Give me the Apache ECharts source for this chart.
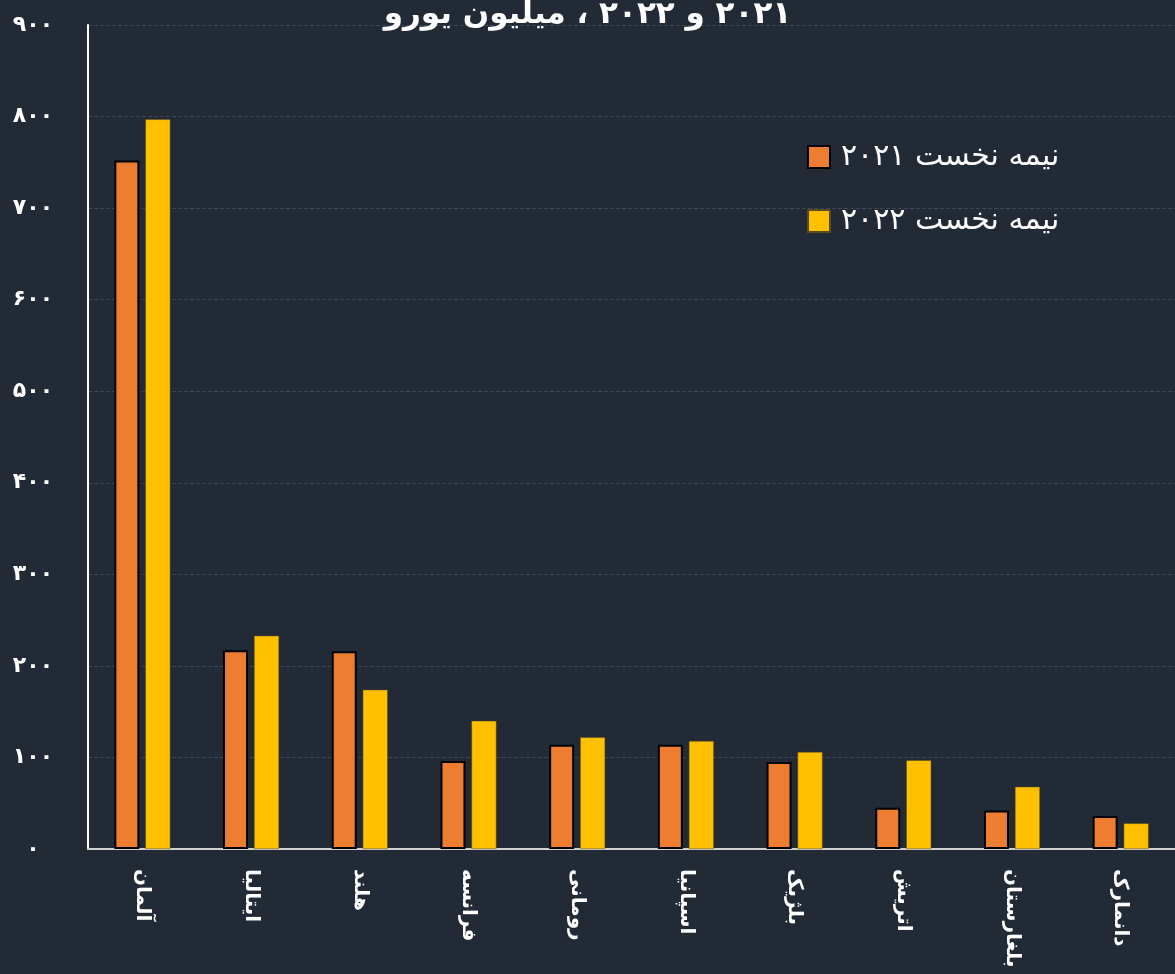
<!DOCTYPE html>
<html><head><meta charset="utf-8">
<script src="https://cdn.jsdelivr.net/npm/echarts@6/dist/echarts.min.js"></script>
<style>html,body{margin:0;padding:0;background:#222a36;}#c{width:1175px;height:974px;direction:rtl;}</style>
</head><body><div id="c"></div>
<script>
const categories = ['آلمان','ایتالیا','هلند','فرانسه','رومانی','اسپانیا','بلژیک','اتریش','بلغارستان','دانمارک'];
const series2021 = [752, 217, 216, 96, 114, 114, 95, 45, 42, 36];
const series2022 = [797, 233, 174, 140, 122, 118, 106, 97, 68, 28];
const seriesNames = ['نیمه نخست ۲۰۲۱', 'نیمه نخست ۲۰۲۲'];
const titleText = '۲۰۲۱ و ۲۰۲۲ ، میلیون یورو';
const faDigits = '۰۱۲۳۴۵۶۷۸۹';
const toFa = v => String(v).replace(/[0-9]/g, d => faDigits[+d]);
const FONT = '"DejaVu Sans", sans-serif';

const chart = echarts.init(document.getElementById('c'));
chart.setOption({
  backgroundColor: '#222a36',
  animation: false,
  textStyle: { fontFamily: FONT },
  title: {
    text: titleText, left: 'center', top: -6,
    textStyle: { color: '#ffffff', fontSize: 31, fontWeight: 'bold', fontFamily: FONT }
  },
  legend: {
    orient: 'vertical', left: 802, top: 137, itemGap: 34,
    itemWidth: 22, itemHeight: 22, icon: 'rect',
    textStyle: { color: '#ffffff', fontSize: 30, fontFamily: FONT, padding: [0, 0, 0, 6] },
    data: seriesNames
  },
  grid: { left: 88, right: 0, top: 25, bottom: 125 },
  xAxis: {
    type: 'category', data: categories,
    axisLine: { lineStyle: { color: '#d0d0d0', width: 2 } },
    axisTick: { show: false },
    axisLabel: { rotate: -90, color: '#ffffff', fontSize: 20, fontWeight: 'bold', margin: 20, fontFamily: FONT }
  },
  yAxis: {
    type: 'value', min: 0, max: 900, interval: 100,
    axisLine: { show: true, lineStyle: { color: '#ffffff', width: 2 } },
    axisTick: { show: false },
    axisLabel: { color: '#ffffff', fontSize: 22, fontWeight: 'bold', margin: 55, align: 'center', formatter: v => toFa(v), fontFamily: FONT },
    splitLine: { show: true, lineStyle: { color: '#3a4656', type: 'dashed', width: 1 } }
  },
  series: [
    { name: seriesNames[0], type: 'bar', data: series2021, barWidth: 25, barGap: '24%',
      itemStyle: { color: '#ed7d31', borderColor: '#000000', borderWidth: 2 } },
    { name: seriesNames[1], type: 'bar', data: series2022, barWidth: 25,
      itemStyle: { color: '#ffc000', borderColor: '#5a4a20', borderWidth: 0.5 } }
  ]
});
</script>
</body></html>
